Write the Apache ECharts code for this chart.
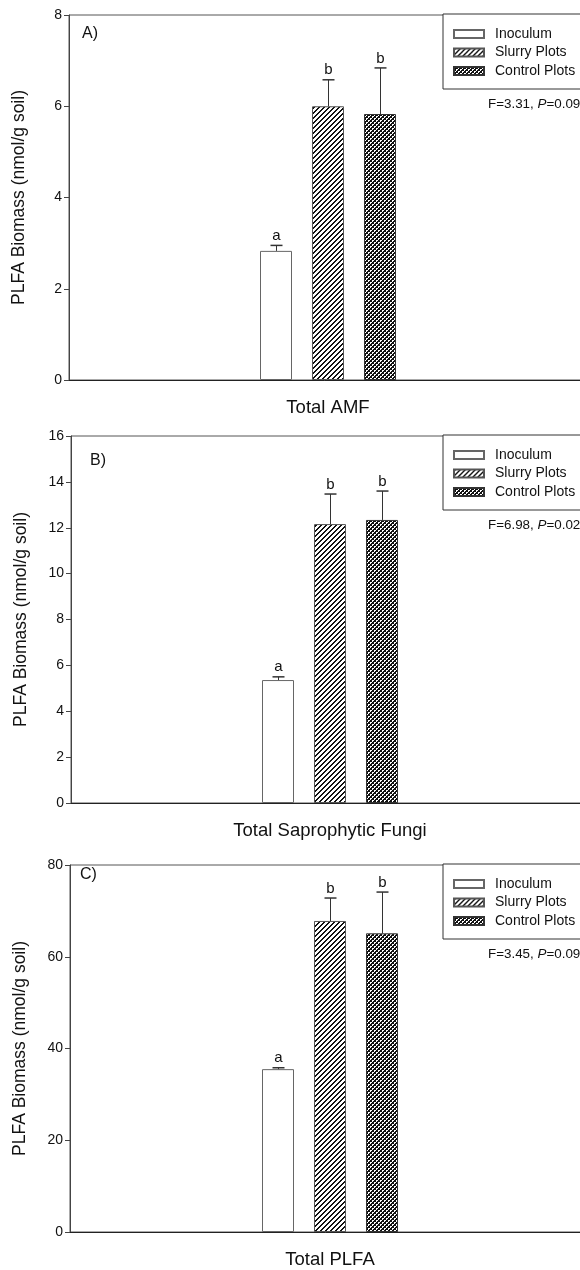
<!DOCTYPE html>
<html>
<head>
<meta charset="utf-8">
<script src="https://cdn.jsdelivr.net/npm/echarts@6/dist/echarts.min.js"></script>
<style>
html,body{margin:0;padding:0;background:#fff}
#main{width:580px;height:1270px}
</style>
</head>
<body>
<div id="main"></div>
<script>
var categories = ['Total AMF', 'Total Saprophytic Fungi', 'Total PLFA'];
var groups = ['Inoculum', 'Slurry Plots', 'Control Plots'];
var inoculum = [2.83, 5.36, 35.5];
var inoculumSE = [0.12, 0.14, 0.3];
var slurry = [6.0, 12.16, 67.8];
var slurrySE = [0.58, 1.31, 5.0];
var control = [5.83, 12.34, 65.1];
var controlSE = [1.01, 1.26, 9.0];
var letters = [['a', 'b', 'b'], ['a', 'b', 'b'], ['a', 'b', 'b']];
var yMax = [8, 16, 80];
var yStep = [2, 2, 20];
var panelTags = ['A)', 'B)', 'C)'];
var fValues = ['3.31', '6.98', '3.45'];
var pValues = ['0.09', '0.02', '0.09'];

// panel layout
var gridTop = [15, 436, 865];
var gridHeight = [365, 367, 367];
var gridLeft = [69, 71, 70];
var gridRight = [-7, -9, -10];
var tagPos = [[82, 35], [90, 462], [80, 876]];

var FONT = 'Liberation Sans, Arial, sans-serif';

// fill patterns, drawn pixel by pixel so they stay crisp
function tile(s, dark){
	var c = document.createElement('canvas');
	c.width = s; c.height = s;
	var ctx = c.getContext('2d');
	ctx.fillStyle = '#ffffff';
	ctx.fillRect(0, 0, s, s);
	ctx.fillStyle = '#111111';
	for (var x = 0; x < s; x++) {
		for (var y = 0; y < s; y++) {
			if (dark(x, y)) ctx.fillRect(x, y, 1, 1);
		}
	}
	return c;
}
var hatch = tile(5, function(x, y){ return (x + y) % 5 < 2; });
var checks = tile(4, function(x, y){
	var w = (x < 2 && y < 2 && x + y < 2) || (x >= 2 && y >= 2 && x + y < 6);
	return !w;
});

var fills = [
	{color: '#ffffff', border: '#666'},
	{color: {image: hatch, repeat: 'repeat'}, border: '#555'},
	{color: {image: checks, repeat: 'repeat'}, border: '#333'}
];
var means = [inoculum, slurry, control];
var ses = [inoculumSE, slurrySE, controlSE];

var grids = [], xAxes = [], yAxes = [], series = [], legends = [], graphics = [];

for (var p = 0; p < 3; p++) {
	grids.push({
		left: gridLeft[p], right: gridRight[p], top: gridTop[p], height: gridHeight[p],
		show: true, borderColor: '#555', borderWidth: 1,
		outerBoundsMode: 'none', containLabel: false
	});
	xAxes.push({
		gridIndex: p, type: 'category', data: [categories[p]],
		axisLine: {lineStyle: {color: '#222', width: 1}},
		axisTick: {alignWithLabel: true, length: 5, lineStyle: {color: '#222'}},
		axisLabel: {fontSize: 18.5, color: '#111', margin: 18, fontFamily: FONT}
	});
	yAxes.push({
		gridIndex: p, type: 'value', min: 0, max: yMax[p], interval: yStep[p],
		name: 'PLFA Biomass (nmol/g soil)', nameLocation: 'middle', nameGap: 41,
		nameTextStyle: {fontSize: 17.5, color: '#111', fontFamily: FONT},
		axisLine: {show: true, lineStyle: {color: '#444', width: 1}},
		axisTick: {show: true, length: 5, lineStyle: {color: '#444'}},
		axisLabel: {fontSize: 14, color: '#111', margin: 7, fontFamily: FONT},
		splitLine: {show: false}
	});
	for (var g = 0; g < 3; g++) {
		series.push({
			name: groups[g], type: 'bar', xAxisIndex: p, yAxisIndex: p,
			barWidth: 32, barGap: '62.5%',
			itemStyle: {color: fills[g].color, borderColor: fills[g].border, borderWidth: 1},
			data: [means[g][p]]
		});
	}
	var errData = [];
	for (var g = 0; g < 3; g++) errData.push([0, g, means[g][p], ses[g][p]]);
	series.push({
		type: 'custom', xAxisIndex: p, yAxisIndex: p, z: 5,
		data: errData,
		renderItem: (function(panel){
			return function(params, api){
				var layout = api.barLayout({count: 3, barWidth: 32, barGap: '62.5%'});
				var g = api.value(1);
				var base = api.coord([api.value(0), api.value(2)]);
				var top = api.coord([api.value(0), api.value(2) + api.value(3)]);
				var x = Math.round(base[0] + layout[g].offsetCenter) + 0.5;
				return {type: 'group', children: [
					{type: 'line', shape: {x1: x, y1: base[1], x2: x, y2: top[1]}, style: {stroke: '#333', lineWidth: 1}},
					{type: 'line', shape: {x1: x - 6, y1: top[1], x2: x + 6, y2: top[1]}, style: {stroke: '#333', lineWidth: 1.5}},
					{type: 'text', style: {text: letters[panel][g], x: x, y: top[1] - 2, align: 'center', verticalAlign: 'bottom',
						fontSize: 15, fontFamily: FONT, fill: '#111'}}
				]};
			};
		})(p)
	});
	legends.push({
		data: groups, orient: 'vertical', left: 443, top: gridTop[p] - 1,
		padding: [13, 40, 11, 10], itemWidth: 30, itemHeight: 8, itemGap: 4.5,
		icon: 'rect', borderColor: '#333', borderWidth: 1, backgroundColor: '#fff',
		selectedMode: false,
		textStyle: {fontSize: 14, color: '#111', fontFamily: FONT, padding: [0, 0, 0, 6]}
	});
	graphics.push({
		type: 'text', left: tagPos[p][0], top: tagPos[p][1] - 9,
		style: {text: panelTags[p], fontSize: 16, fontFamily: FONT, fill: '#111'}
	});
	graphics.push({
		type: 'text', left: 488, top: gridTop[p] + 83,
		style: {
			text: 'F=' + fValues[p] + ', {i|P}=' + pValues[p],
			fontSize: 13.4, fontFamily: FONT, fill: '#111',
			rich: {i: {fontStyle: 'italic', fontSize: 13.4, fontFamily: FONT, fill: '#111'}}
		}
	});
}

var myChart = echarts.init(document.getElementById('main'));
var option = {
	animation: false,
	backgroundColor: '#fff',
	grid: grids,
	xAxis: xAxes,
	yAxis: yAxes,
	legend: legends,
	graphic: graphics,
	series: series
};
myChart.setOption(option);
</script>
</body>
</html>
